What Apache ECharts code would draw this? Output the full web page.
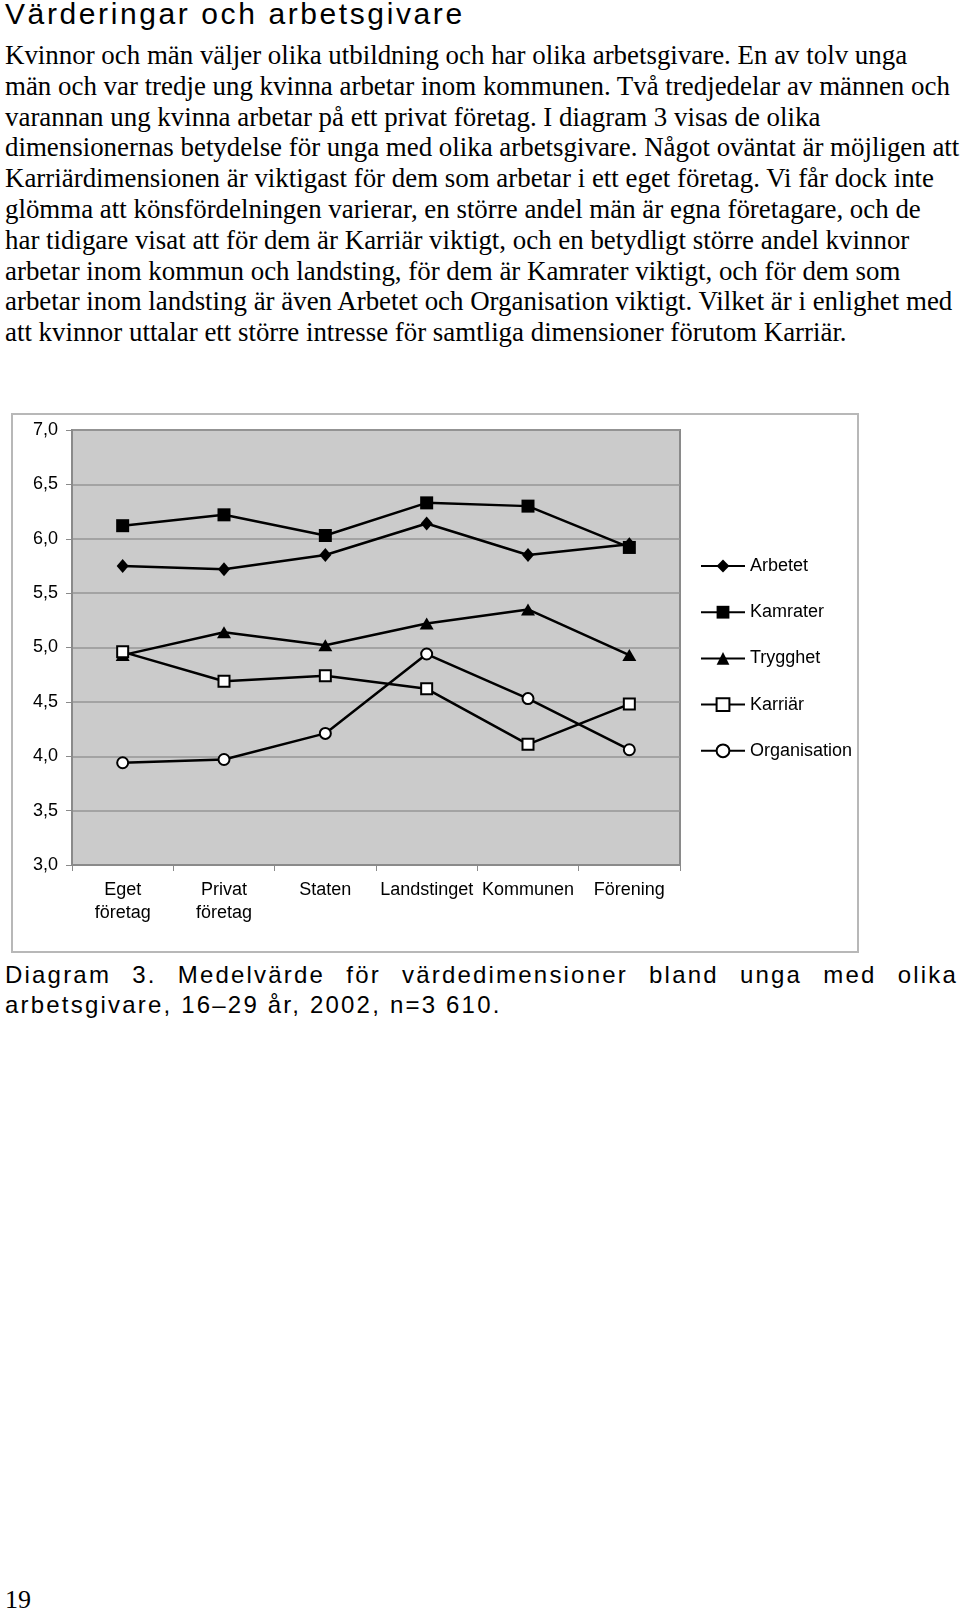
<!DOCTYPE html>
<html>
<head>
<meta charset="utf-8">
<script src="https://cdn.jsdelivr.net/npm/echarts@6/dist/echarts.min.js"></script>
<style>
  html, body { margin: 0; padding: 0; background: #fff; }
  body { width: 960px; height: 1610px; position: relative; overflow: hidden; }
  #title { position: absolute; left: 5px; top: -1px; font-family: "Liberation Sans", Arial, sans-serif; font-size: 30px; line-height: 30px; letter-spacing: 2.6px; color: #000; white-space: nowrap; }
  #body { position: absolute; left: 5px; top: 40px; font-family: "Liberation Serif", "Times New Roman", serif; font-size: 26.9px; line-height: 30.8px; color: #000; white-space: nowrap; }
  #frame { position: absolute; left: 11px; top: 413px; width: 844px; height: 536px; border: 2px solid #b8b8b8; }
  #chart { position: absolute; left: 0; top: 400px; width: 960px; height: 560px; }
  #caption { position: absolute; left: 5px; top: 960px; width: 953px; font-family: "Liberation Sans", Arial, sans-serif; font-size: 24px; line-height: 29.5px; letter-spacing: 2.2px; color: #000; }
  #caption .l1 { text-align: justify; text-align-last: justify; white-space: nowrap; }
  #pageno { position: absolute; left: 5px; top: 1586px; font-family: "Liberation Serif", "Times New Roman", serif; font-size: 26px; line-height: 28px; color: #000; }
</style>
</head>
<body>
<div id="title">Värderingar och arbetsgivare</div>
<div id="body">Kvinnor och män väljer olika utbildning och har olika arbetsgivare. En av tolv unga<br>män och var tredje ung kvinna arbetar inom kommunen. Två tredjedelar av männen och<br>varannan ung kvinna arbetar på ett privat företag. I diagram 3 visas de olika<br>dimensionernas betydelse för unga med olika arbetsgivare. Något oväntat är möjligen att<br>Karriärdimensionen är viktigast för dem som arbetar i ett eget företag. Vi får dock inte<br>glömma att könsfördelningen varierar, en större andel män är egna företagare, och de<br>har tidigare visat att för dem är Karriär viktigt, och en betydligt större andel kvinnor<br>arbetar inom kommun och landsting, för dem är Kamrater viktigt, och för dem som<br>arbetar inom landsting är även Arbetet och Organisation viktigt. Vilket är i enlighet med<br>att kvinnor uttalar ett större intresse för samtliga dimensioner förutom Karriär.</div>
<div id="frame"></div>
<div id="chart"></div>
<div id="caption"><div class="l1">Diagram 3. Medelvärde för värdedimensioner bland unga med olika</div><div>arbetsgivare, 16–29 år, 2002, n=3 610.</div></div>
<div id="pageno">19</div>
<script>
const categories = ['Eget\nföretag', 'Privat\nföretag', 'Staten', 'Landstinget', 'Kommunen', 'Förening'];
const seriesNames = ['Arbetet', 'Kamrater', 'Trygghet', 'Karriär', 'Organisation'];
const arbetet = [5.75, 5.72, 5.85, 6.14, 5.85, 5.95];
const kamrater = [6.12, 6.22, 6.03, 6.33, 6.30, 5.92];
const trygghet = [4.93, 5.14, 5.02, 5.22, 5.35, 4.93];
const karriar = [4.96, 4.69, 4.74, 4.62, 4.11, 4.48];
const organisation = [3.94, 3.97, 4.21, 4.94, 4.53, 4.06];
const yMin = 3.0;
const yMax = 7.0;
const yStep = 0.5;

const chart = echarts.init(document.getElementById('chart'), null, { renderer: 'canvas' });
const FONT = '"Liberation Sans", Arial, sans-serif';
function mkSeries(name, data, symbol, size) {
  return {
    name: name,
    type: 'line',
    data: data,
    symbol: symbol,
    symbolSize: size,
    showAllSymbol: true,
    lineStyle: { color: '#000', width: 2.5 },
    itemStyle: { color: '#000' },
    emphasis: { disabled: true },
    animation: false
  };
}
chart.setOption({
  animation: false,
  textStyle: { fontFamily: FONT },
  grid: {
    left: 72, top: 30, width: 608, height: 435,
    show: true, backgroundColor: '#cbcbcb', borderColor: '#8a8a8a', borderWidth: 2
  },
  legend: {
    orient: 'vertical',
    left: 700, top: 157, padding: 0,
    itemWidth: 44, itemHeight: 16, itemGap: 28.2,
    textStyle: { fontFamily: FONT, fontSize: 18, color: '#000', lineHeight: 18 },
    data: seriesNames,
    selectedMode: false
  },
  xAxis: {
    type: 'category',
    data: categories,
    boundaryGap: true,
    axisLine: { lineStyle: { color: '#8a8a8a', width: 2 } },
    axisTick: { show: true, length: 6, lineStyle: { color: '#8a8a8a', width: 1 } },
    axisLabel: { interval: 0, margin: 14, color: '#000', fontFamily: FONT, fontSize: 18, lineHeight: 23 },
    splitLine: { show: false }
  },
  yAxis: {
    type: 'value',
    min: yMin, max: yMax, interval: yStep,
    axisLine: { show: true, lineStyle: { color: '#8a8a8a', width: 2 } },
    axisTick: { show: true, length: 6, lineStyle: { color: '#8a8a8a', width: 1 } },
    axisLabel: { margin: 14, color: '#000', fontFamily: FONT, fontSize: 18,
      formatter: v => v.toFixed(1).replace('.', ',') },
    splitLine: { show: true, lineStyle: { color: '#969696', width: 1.5 } }
  },
  series: [
    mkSeries('Arbetet', arbetet, 'diamond', [12, 14]),
    mkSeries('Kamrater', kamrater, 'rect', 13),
    mkSeries('Trygghet', trygghet, 'triangle', [14, 12]),
    mkSeries('Karriär', karriar, 'emptyRect', 11),
    mkSeries('Organisation', organisation, 'emptyCircle', 11)
  ]
});
</script>
</body>
</html>
